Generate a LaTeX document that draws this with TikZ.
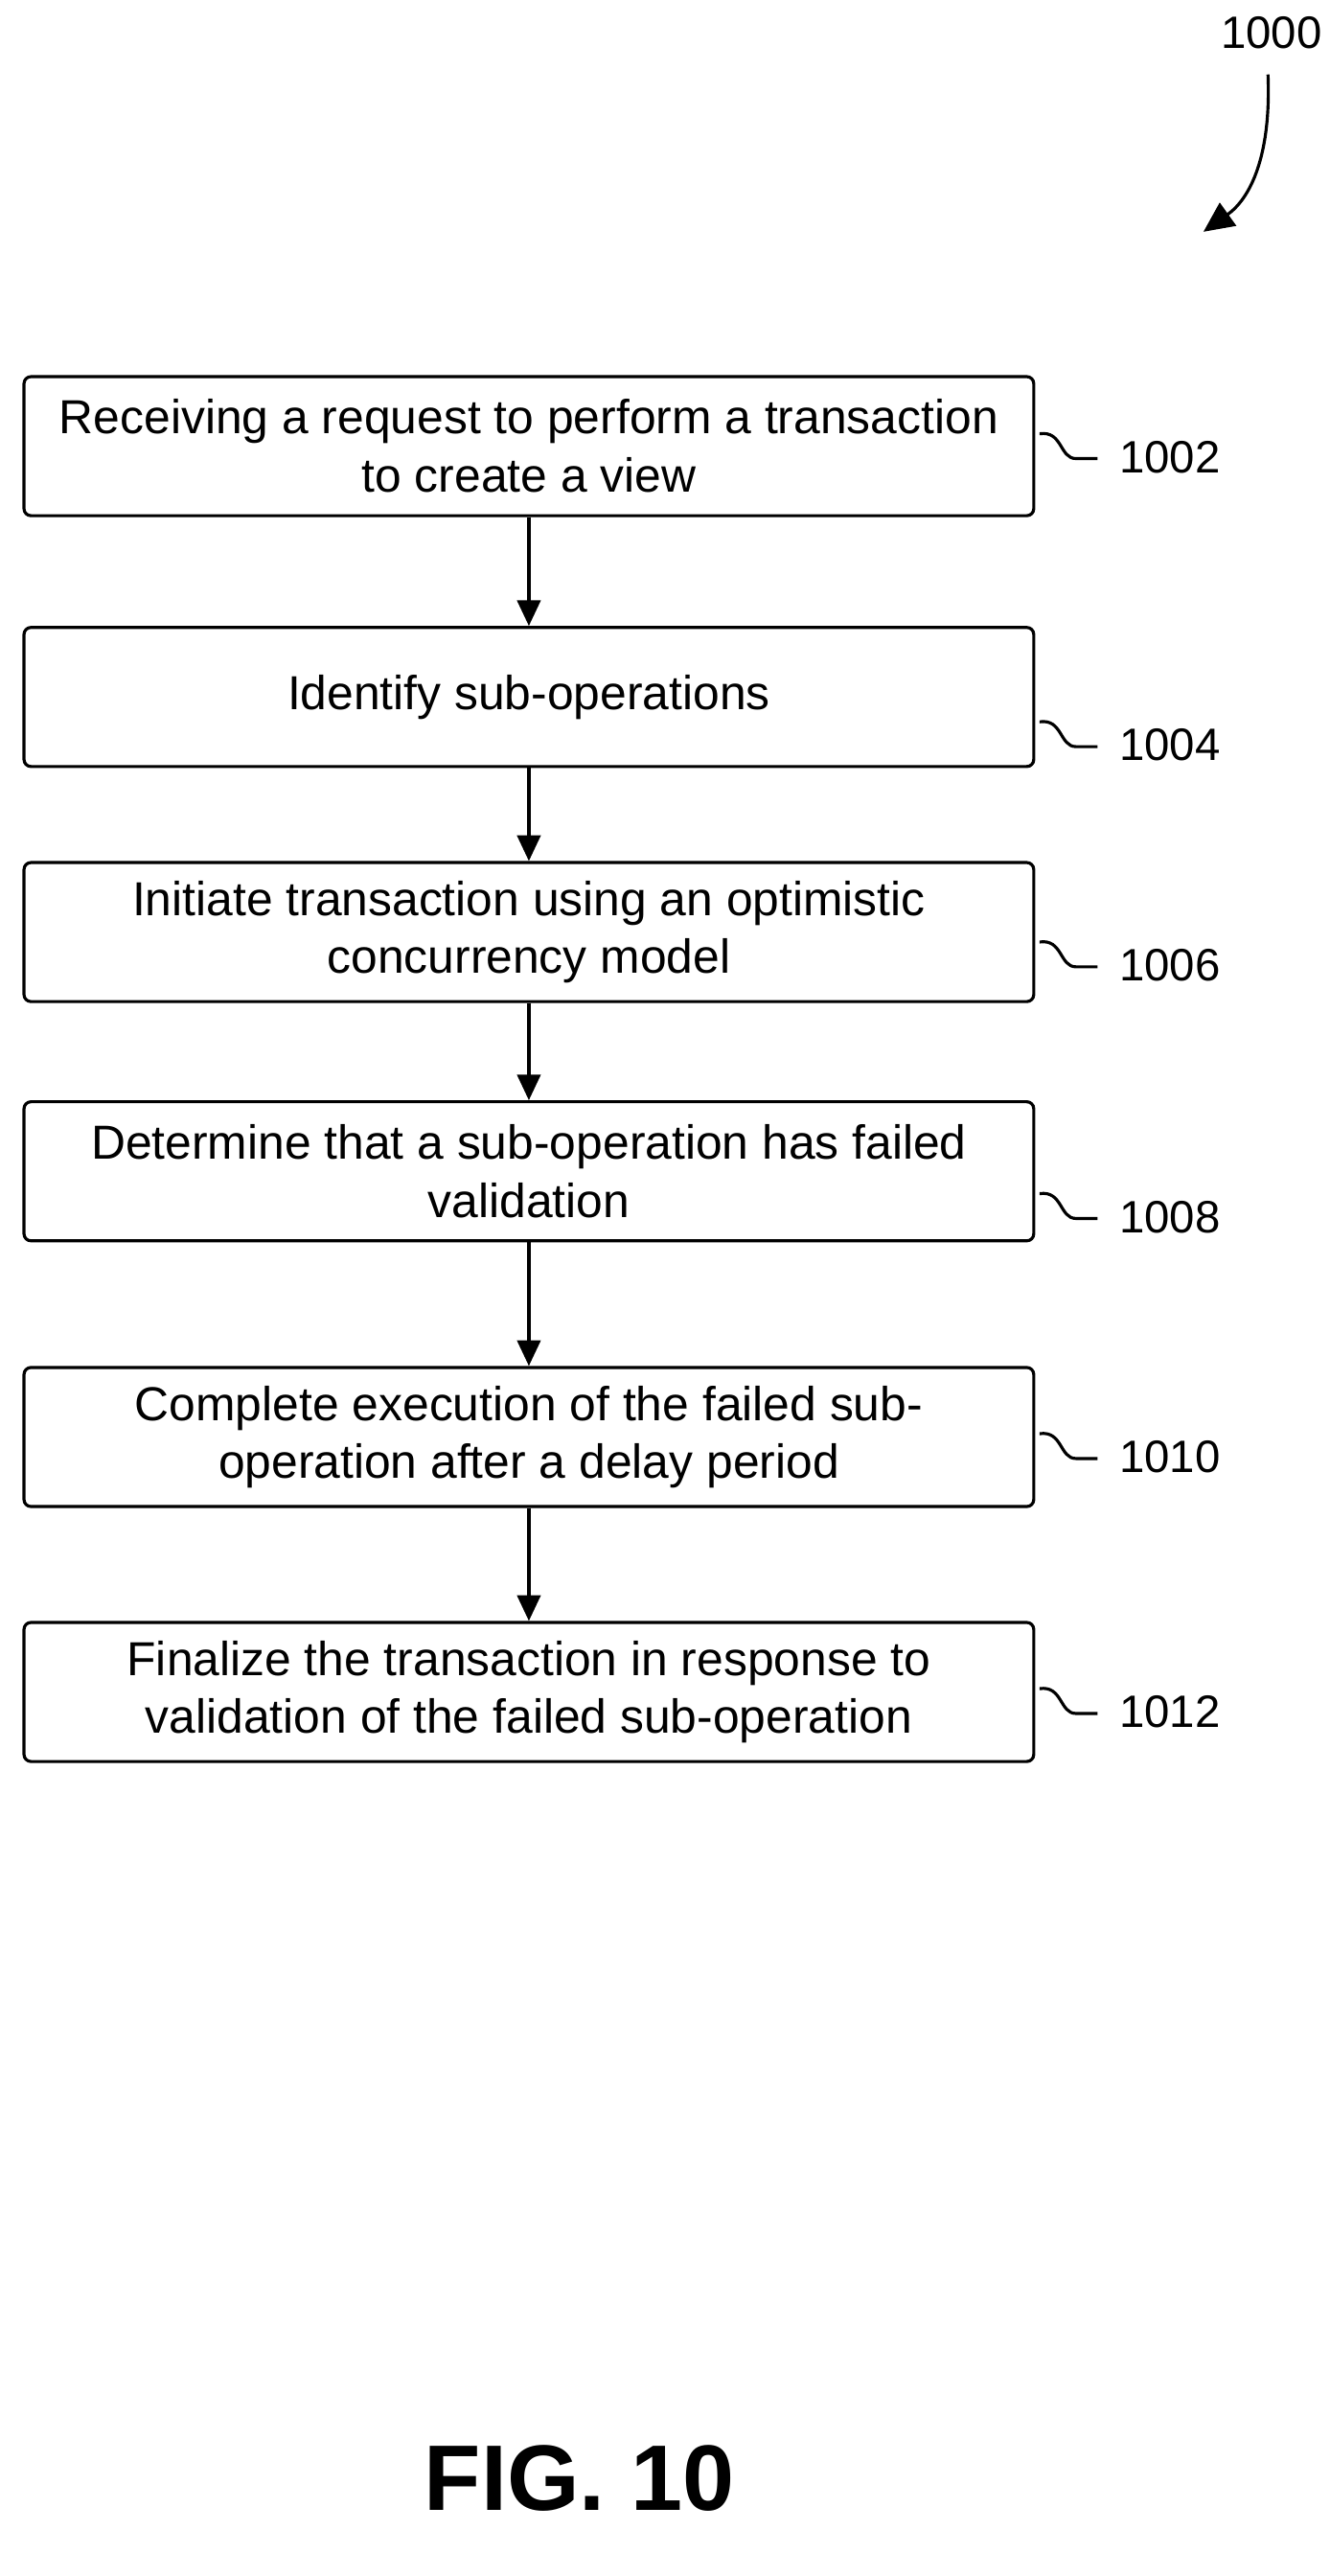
\documentclass[tikz,border=0pt]{standalone}
\usepackage{fontspec}
\setmainfont{Liberation Sans}
\usetikzlibrary{arrows.meta}
\begin{document}
\begin{tikzpicture}[x=0.025cm,y=-0.025cm,
  box/.style={draw,line width=1.3pt,rounded corners=3pt,minimum width=610*0.025cm,minimum height=84*0.025cm,align=center,font=\fontsize{20.5}{25}\selectfont,inner sep=0pt},
  lbl/.style={font=\fontsize{19.5}{24}\selectfont,anchor=west,inner sep=0pt},
  arr/.style={line width=1.3pt,-{Triangle[length=11pt,width=10pt]}},
  sq/.style={line width=1.3pt}]
\useasboundingbox (0,0) rectangle (803,1556);
\node[box] (b1) at (319.5,269.5) {Receiving a request to perform a transaction\\to create a view};
\node[box] (b2) at (319.5,421) {Identify sub-operations};
\node[box] (b3) at (319.5,563) {Initiate transaction using an optimistic\\concurrency model};
\node[box] (b4) at (319.5,707.5) {Determine that a sub-operation has failed\\validation};
\node[box] (b5) at (319.5,868) {Complete execution of the failed sub-\\operation after a delay period};
\node[box] (b6) at (319.5,1022) {Finalize the transaction in response to\\validation of the failed sub-operation};
\foreach \a/\b in {b1/b2,b2/b3,b3/b4,b4/b5,b5/b6} \draw[arr] (\a) -- (\b);
\foreach \y/\t in {276/1002,450/1004,583/1006,735/1008,880/1010,1034/1012}{
  \node[lbl] (l\t) at (676,\y) {\t};
  \draw[sq] (628,\y-14) .. controls (642,\y-16) and (640,\y+1) .. (650,\y+1) -- (663,\y+1);
}
\node[font=\fontsize{19.5}{24}\selectfont] (n1000) at (768,20) {1000};
\coordinate (t) at (727,140);
\draw[line width=1.3pt,-{Triangle[length=13pt,width=12pt]}] (766,45) .. controls (768,95) and (755,120) .. (t);
\node[font=\bfseries\fontsize{40}{48}\selectfont] (fig) at (350,1497) {FIG. 10};
\end{tikzpicture}
\end{document}
